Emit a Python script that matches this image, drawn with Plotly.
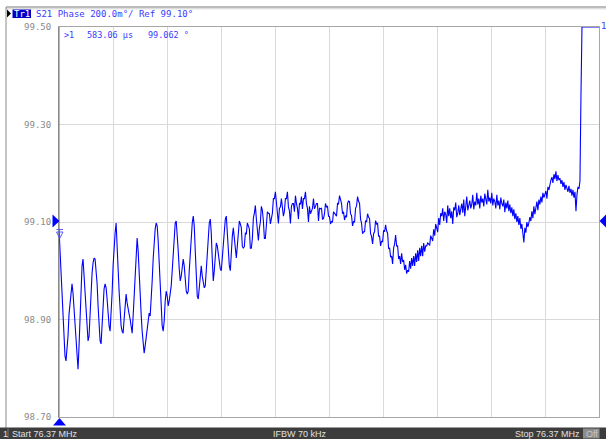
import numpy as np
import plotly.graph_objects as go

# ---- data ----
y_ticks = [98.70, 98.90, 99.10, 99.30, 99.50]
y_tick_labels = ["98.70", "98.90", "99.10", "99.30", "99.50"]
sweep_time_us = 600.0

phase_deg = [
    99.086, 99.041, 98.985, 98.928, 98.887, 98.846, 98.825, 98.815, 98.835, 98.866,
    98.911, 98.938, 98.958, 98.973, 98.954, 98.924, 98.883, 98.850, 98.815, 98.798,
    98.846, 98.917, 98.975, 99.010, 99.024, 98.989, 98.944, 98.907, 98.887, 98.856,
    98.866, 98.917, 98.958, 98.995, 99.016, 99.026, 99.024, 99.004, 98.975, 98.928,
    98.881, 98.856, 98.850, 98.887, 98.938, 98.963, 98.973, 98.965, 98.942, 98.911,
    98.887, 98.876, 98.907, 98.954, 99.010, 99.051, 99.077, 99.098, 99.061, 99.004,
    98.958, 98.917, 98.887, 98.876, 98.872, 98.901, 98.938, 98.952, 98.934, 98.917,
    98.911, 98.901, 98.881, 98.872, 98.907, 98.948, 99.000, 99.041, 99.067, 99.041,
    98.989, 98.944, 98.911, 98.876, 98.846, 98.831, 98.846, 98.866, 98.887, 98.901,
    98.913, 98.907, 98.938, 98.979, 99.024, 99.061, 99.086, 99.098, 99.092, 99.061,
    99.010, 98.958, 98.917, 98.887, 98.876, 98.897, 98.938, 98.958, 98.948, 98.928,
    98.938, 98.954, 98.969, 99.000, 99.041, 99.077, 99.098, 99.102, 99.077, 99.041,
    99.004, 98.979, 98.989, 99.016, 99.024, 99.010, 98.979, 98.958, 98.952, 98.958,
    99.000, 99.041, 99.071, 99.098, 99.112, 99.092, 99.041, 98.979, 98.948, 98.942,
    98.969, 98.989, 99.010, 98.989, 98.975, 98.965, 98.969, 99.000, 99.041, 99.071,
    99.098, 99.106, 99.077, 99.024, 98.979, 99.000, 99.041, 99.057, 99.051, 99.036,
    99.016, 99.004, 99.000, 99.030, 99.061, 99.086, 99.106, 99.112, 99.071, 99.030,
    99.010, 99.000, 99.041, 99.071, 99.088, 99.061, 99.036, 99.026, 99.051, 99.077,
    99.102, 99.096, 99.088, 99.050, 99.046, 99.050, 99.077, 99.076, 99.098, 99.092,
    99.086, 99.046, 99.046, 99.066, 99.108, 99.118, 99.134, 99.106, 99.090, 99.062,
    99.087, 99.100, 99.132, 99.124, 99.102, 99.066, 99.066, 99.087, 99.121, 99.118,
    99.117, 99.096, 99.113, 99.118, 99.148, 99.148, 99.162, 99.138, 99.122, 99.097,
    99.128, 99.131, 99.148, 99.121, 99.112, 99.122, 99.148, 99.148, 99.162, 99.131,
    99.123, 99.097, 99.132, 99.138, 99.138, 99.121, 99.154, 99.138, 99.128, 99.106,
    99.138, 99.137, 99.152, 99.127, 99.148, 99.148, 99.162, 99.137, 99.128, 99.100,
    99.132, 99.117, 99.121, 99.128, 99.148, 99.127, 99.132, 99.138, 99.138, 99.102,
    99.128, 99.127, 99.128, 99.106, 99.107, 99.117, 99.138, 99.131, 99.132, 99.112,
    99.111, 99.096, 99.101, 99.100, 99.121, 99.117, 99.115, 99.112, 99.138, 99.137,
    99.154, 99.143, 99.138, 99.117, 99.121, 99.104, 99.113, 99.110, 99.138, 99.143,
    99.142, 99.117, 99.113, 99.092, 99.101, 99.100, 99.128, 99.133, 99.152, 99.143,
    99.138, 99.106, 99.097, 99.076, 99.080, 99.080, 99.103, 99.100, 99.117, 99.110,
    99.107, 99.076, 99.070, 99.055, 99.076, 99.080, 99.103, 99.096, 99.097, 99.071,
    99.071, 99.051, 99.061, 99.059, 99.083, 99.080, 99.094, 99.082, 99.077, 99.045,
    99.047, 99.028, 99.030, 99.014, 99.047, 99.055, 99.073, 99.051, 99.051, 99.024,
    99.030, 99.014, 99.036, 99.018, 99.022, 99.002, 99.012, 98.994, 99.001, 98.998,
    99.020, 99.004, 99.026, 99.010, 99.030, 99.010, 99.036, 99.018, 99.042, 99.020,
    99.047, 99.030, 99.051, 99.030, 99.057, 99.039, 99.051, 99.051, 99.057, 99.055,
    99.052, 99.072, 99.066, 99.061, 99.085, 99.072, 99.096, 99.088, 99.079, 99.108,
    99.094, 99.118, 99.112, 99.128, 99.102, 99.121, 99.116, 99.098, 99.134, 99.112,
    99.128, 99.108, 99.122, 99.096, 99.130, 99.124, 99.140, 99.110, 99.118, 99.134,
    99.114, 99.126, 99.138, 99.119, 99.146, 99.112, 99.128, 99.152, 99.124, 99.132,
    99.144, 99.128, 99.136, 99.156, 99.126, 99.142, 99.134, 99.160, 99.136, 99.148,
    99.128, 99.154, 99.140, 99.148, 99.132, 99.158, 99.146, 99.136, 99.166, 99.142,
    99.150, 99.138, 99.160, 99.134, 99.148, 99.142, 99.128, 99.156, 99.134, 99.144,
    99.126, 99.150, 99.138, 99.132, 99.146, 99.120, 99.140, 99.128, 99.144, 99.122,
    99.136, 99.118, 99.130, 99.112, 99.126, 99.106, 99.118, 99.100, 99.112, 99.094,
    99.108, 99.086, 99.096, 99.074, 99.058, 99.088, 99.078, 99.100, 99.090, 99.098,
    99.110, 99.102, 99.122, 99.108, 99.132, 99.116, 99.126, 99.142, 99.124, 99.146,
    99.136, 99.152, 99.140, 99.160, 99.150, 99.158, 99.164, 99.148, 99.172, 99.166,
    99.178, 99.186, 99.192, 99.180, 99.198, 99.188, 99.204, 99.184, 99.196, 99.186,
    99.190, 99.178, 99.186, 99.172, 99.182, 99.166, 99.176, 99.170, 99.162, 99.174,
    99.160, 99.168, 99.154, 99.166, 99.150, 99.162, 99.122, 99.156, 99.172, 99.168,
    99.184, 99.360, 99.500, 99.500, 99.500, 99.500, 99.500, 99.500, 99.500, 99.500,
    99.500, 99.500, 99.500, 99.500, 99.500, 99.500, 99.500, 99.500, 99.500, 99.500,
]
time_us = np.linspace(0.0, sweep_time_us, len(phase_deg))

# ---- layout geometry (pixels) ----
W, H = 606, 439
L, R, T, B = 59, 7, 27, 22
PW, PH = W - L - R, H - T - B


def px(x):
    return (x - L) / PW


def py(y):
    return (H - B - y) / PH


TRACE_BLUE = "#0000ff"
TEXT_BLUE = "#3a3aff"
MONO = "DejaVu Sans Mono"

fig = go.Figure()
fig.add_trace(go.Scatter(x=time_us, y=phase_deg, mode="lines",
                         line=dict(color=TRACE_BLUE, width=1.1), hoverinfo="skip"))

shapes = []
# header lines and left border
shapes.append(dict(type="line", xref="paper", yref="paper", x0=px(6), x1=px(606), y0=py(7), y1=py(7),
                   line=dict(color="#7a7a7a", width=1.2)))
shapes.append(dict(type="line", xref="paper", yref="paper", x0=px(6), x1=px(606), y0=py(8.8), y1=py(8.8),
                   line=dict(color="#d0d0d0", width=1)))
shapes.append(dict(type="line", xref="paper", yref="paper", x0=px(6), x1=px(6), y0=py(7), y1=py(428),
                   line=dict(color="#8a8a8a", width=1)))
# darker left axis line
shapes.append(dict(type="line", xref="paper", yref="paper", x0=0, x1=0, y0=0, y1=1,
                   line=dict(color="#6e6e6e", width=1)))
# status bar
shapes.append(dict(type="rect", xref="paper", yref="paper", x0=px(0), x1=px(606), y0=py(439), y1=py(427.5),
                   fillcolor="#3c3c3c", line=dict(width=0), layer="above"))
shapes.append(dict(type="line", xref="paper", yref="paper", x0=px(8), x1=px(8), y0=py(438), y1=py(428.5),
                   line=dict(color="#7a7a7a", width=1)))
shapes.append(dict(type="rect", xref="paper", yref="paper", x0=px(583), x1=px(599.5), y0=py(438.5), y1=py(428.5),
                   fillcolor="#8c8c8c", line=dict(width=0), layer="above"))
# Tr1 header symbols
shapes.append(dict(type="path", xref="paper", yref="paper",
                   path=f"M {px(7)} {py(9.5)} L {px(11)} {py(13.5)} L {px(7)} {py(17.5)} Z",
                   fillcolor="#000000", line=dict(width=0)))
shapes.append(dict(type="rect", xref="paper", yref="paper", x0=px(12.5), x1=px(31), y0=py(18), y1=py(9.5),
                   fillcolor="#0000c8", line=dict(width=0)))
# reference level triangles
shapes.append(dict(type="path", xref="paper", yref="paper",
                   path=f"M {px(52.5)} {py(214.5)} L {px(59.5)} {py(221)} L {px(52.5)} {py(227.5)} Z",
                   fillcolor=TRACE_BLUE, line=dict(width=0)))
shapes.append(dict(type="path", xref="paper", yref="paper",
                   path=f"M {px(606)} {py(214.5)} L {px(599.5)} {py(221)} L {px(606)} {py(227.5)} Z",
                   fillcolor=TRACE_BLUE, line=dict(width=0)))
# start marker triangle (bottom)
shapes.append(dict(type="path", xref="paper", yref="paper",
                   path=f"M {px(53)} {py(425.5)} L {px(59.5)} {py(418)} L {px(66)} {py(425.5)} Z",
                   fillcolor=TRACE_BLUE, line=dict(width=0)))
# small marker symbol near the trace start
shapes.append(dict(type="line", xref="paper", yref="paper", x0=px(56.5), x1=px(63), y0=py(229.5), y1=py(229.5),
                   line=dict(color="#5a5aff", width=1)))
shapes.append(dict(type="path", xref="paper", yref="paper",
                   path=f"M {px(56.5)} {py(232)} L {px(63)} {py(232)} L {px(59.7)} {py(238.5)} Z",
                   fillcolor="rgba(0,0,0,0)", line=dict(color="#5a5aff", width=1)))

annotations = []


def note(text, x, y, color, size=9, family=MONO, xanchor="left"):
    annotations.append(dict(text=text, x=px(x), y=py(y), xref="paper", yref="paper",
                            xanchor=xanchor, yanchor="middle", showarrow=False,
                            font=dict(family=family, size=size, color=color), borderpad=0))


note("Tr1", 12.5, 13.6, "#ffffff")
note("S21 Phase 200.0m°/ Ref 99.10°", 35, 13.6, TEXT_BLUE)
note(">1", 62.5, 34.5, TEXT_BLUE, size=8.5)
note("583.06 µs", 85.5, 34.5, TEXT_BLUE, size=8.5)
note("99.062 °", 146.5, 34.5, TEXT_BLUE, size=8.5)
note("1", 599.5, 25.5, TEXT_BLUE, size=9)

SANS = "Liberation Sans"
note("1", 1.5, 433.5, "#e0e0e0", size=9, family=SANS)
note("Start 76.37 MHz", 10.5, 433.5, "#e0e0e0", size=9, family=SANS)
note("IFBW 70 kHz", 300, 433.5, "#e0e0e0", size=9, family=SANS, xanchor="center")
note("Stop 76.37 MHz", 580.5, 433.5, "#e0e0e0", size=9, family=SANS, xanchor="right")
note("Off", 584.5, 433.5, "#c8c8c8", size=9, family=SANS)

fig.update_layout(
    width=W, height=H,
    margin=dict(l=L, r=R, t=T, b=B, pad=0),
    paper_bgcolor="#ffffff", plot_bgcolor="#ffffff",
    showlegend=False,
    shapes=shapes, annotations=annotations,
    xaxis=dict(range=[0, sweep_time_us], dtick=sweep_time_us / 10, tick0=0,
               showgrid=True, gridcolor="#d9d9d9", gridwidth=1,
               showticklabels=False, ticks="", zeroline=False,
               showline=True, linecolor="#a6a6a6", linewidth=1, mirror=True, fixedrange=True),
    yaxis=dict(range=[98.70, 99.50], tickvals=y_ticks, ticktext=y_tick_labels,
               showgrid=True, gridcolor="#d9d9d9", gridwidth=1,
               ticks="", ticklabelstandoff=5, zeroline=False,
               tickfont=dict(family=MONO, size=9, color="#8a8a8a"),
               showline=True, linecolor="#a6a6a6", linewidth=1, mirror=True, fixedrange=True),
)

fig.write_html(
    "out.html",
    config={"displayModeBar": False},
    post_script="document.body.style.margin='0';document.body.style.padding='0';"
                "document.documentElement.style.overflow='hidden';",
)
